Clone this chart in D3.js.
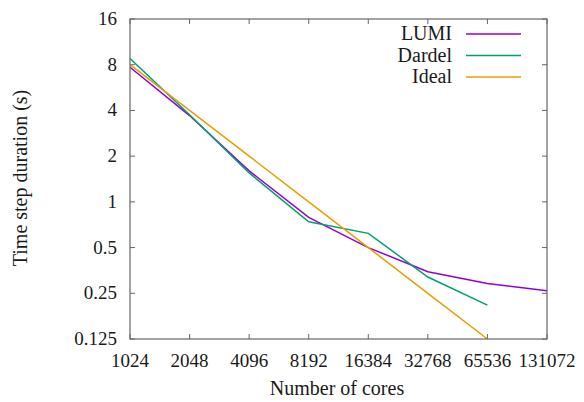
<!DOCTYPE html>
<html>
<head>
<meta charset="utf-8">
<script src="https://cdn.jsdelivr.net/npm/d3@7"></script>
<style>
  body { margin: 0; background: #fff; }
</style>
</head>
<body>
<div id="chart"></div>
<script>
// core counts and timings (s)
var cores = [1024, 2048, 4096, 8192, 16384, 32768, 65536, 131072]
var lumi = [7.7, 3.7, 1.6, 0.79, 0.5, 0.347, 0.29, 0.26]
var dardel = [8.8, 3.75, 1.55, 0.74, 0.62, 0.32, 0.209]
var ideal = [8, 4, 2, 1, 0.5, 0.25, 0.125]
var yTicks = [0.125, 0.25, 0.5, 1, 2, 4, 8, 16]
var seriesNames = ['LUMI', 'Dardel', 'Ideal']
var seriesColors = ['#9400d3', '#009e73', '#e69f00']

var width = 584, height = 402
var margin = {top: 19, right: 37, bottom: 63, left: 130}
var w = width - margin.left - margin.right
var h = height - margin.top - margin.bottom
var fontStack = "'Liberation Serif', 'Times New Roman', Tinos, 'DejaVu Serif', serif"

var svg = d3.select('#chart').append('svg')
	.attr('width', width)
	.attr('height', height)
	.style('font-family', fontStack)

var g = svg.append('g')
	.attr('transform', 'translate(' + margin.left + ',' + margin.top + ')')

var x = d3.scaleLog().base(2)
	.domain([1024, 131072])
	.range([0, w])

var y = d3.scaleLog().base(2)
	.domain([0.125, 16])
	.range([h, 0])

var tickLen = 5
var frameColor = '#666'
var txt = '#1a1a1a'

// ticks on all four sides, pointing inwards
cores.forEach(function(c){
	g.append('line').attr('x1', x(c)).attr('x2', x(c)).attr('y1', h).attr('y2', h - tickLen)
		.attr('stroke', frameColor)
	g.append('line').attr('x1', x(c)).attr('x2', x(c)).attr('y1', 0).attr('y2', tickLen)
		.attr('stroke', frameColor)
	g.append('text').attr('x', x(c)).attr('y', h + 28)
		.attr('text-anchor', 'middle').attr('font-size', 19).attr('fill', txt)
		.style('font-family', fontStack)
		.text(c)
})
yTicks.forEach(function(t){
	g.append('line').attr('x1', 0).attr('x2', tickLen).attr('y1', y(t)).attr('y2', y(t))
		.attr('stroke', frameColor)
	g.append('line').attr('x1', w).attr('x2', w - tickLen).attr('y1', y(t)).attr('y2', y(t))
		.attr('stroke', frameColor)
	g.append('text').attr('x', -13).attr('y', y(t) + 6)
		.attr('text-anchor', 'end').attr('font-size', 19).attr('fill', txt)
		.style('font-family', fontStack)
		.text(t)
})

var line = d3.line()
	.x(function(d){ return x(d[0]) })
	.y(function(d){ return y(d[1]) })

var allSeries = [lumi, dardel, ideal]
allSeries.forEach(function(vals, i){
	var pts = vals.map(function(v, j){ return [cores[j], v] })
	g.append('path').datum(pts)
		.attr('d', line)
		.attr('fill', 'none')
		.attr('stroke', seriesColors[i])
		.attr('stroke-width', 1.5)
})

// frame
g.append('rect').attr('x', 0).attr('y', 0).attr('width', w).attr('height', h)
	.attr('fill', 'none').attr('stroke', frameColor).attr('stroke-width', 1.2)

// legend
seriesNames.forEach(function(name, i){
	var ly = 15 + i * 21.5
	g.append('text').attr('x', 322).attr('y', ly + 6)
		.attr('text-anchor', 'end').attr('font-size', 20).attr('fill', txt)
		.style('font-family', fontStack)
		.text(name)
	g.append('line').attr('x1', 336).attr('x2', 391).attr('y1', ly).attr('y2', ly)
		.attr('stroke', seriesColors[i]).attr('stroke-width', 1.5)
})

svg.append('text').attr('x', 337).attr('y', 395)
	.attr('text-anchor', 'middle').attr('font-size', 20).attr('fill', txt)
	.style('font-family', fontStack)
	.text('Number of cores')

svg.append('text')
	.attr('transform', 'translate(27,178) rotate(-90)')
	.attr('text-anchor', 'middle').attr('font-size', 20).attr('fill', txt)
	.style('font-family', fontStack)
	.text('Time step duration (s)')
</script>
</body>
</html>
